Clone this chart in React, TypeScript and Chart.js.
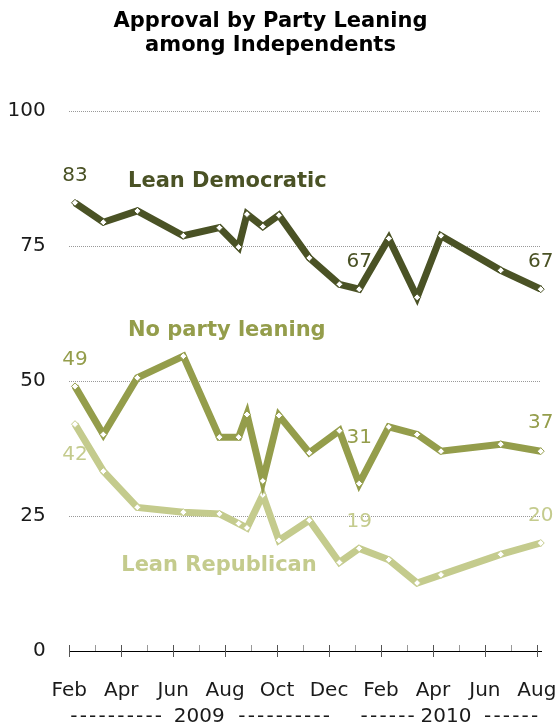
import React, { useEffect, useRef } from "react";
import { Chart, registerables } from "chart.js";

Chart.register(...registerables);

// Survey dates expressed as months since 1 Feb 2009
const surveyMonths = [0.22, 1.31, 2.62, 4.39, 5.78, 6.52, 6.84, 7.45, 8.07, 9.24, 10.4, 11.16, 12.3, 13.39, 14.31, 16.61, 18.15];
const leanDemocratic = [83, 79.4, 81.5, 76.9, 78.4, 74.8, 80.9, 78.6, 80.7, 72.8, 67.9, 67, 76.4, 65.5, 76.9, 70.5, 67];
const noPartyLeaning = [49, 40.1, 50.6, 54.6, 39.6, 39.6, 43.8, 31.5, 43.6, 36.7, 40.8, 31, 41.5, 40.1, 37, 38.3, 37];
const leanRepublican = [42, 33.3, 26.6, 25.7, 25.4, 23.6, 22.8, 28.9, 20.5, 24.2, 16.4, 19, 16.9, 12.6, 14.1, 17.9, 20];
const monthLabels = ["Feb", "Mar", "Apr", "May", "Jun", "Jul", "Aug", "Sep", "Oct", "Nov", "Dec", "Jan", "Feb", "Mar", "Apr", "May", "Jun", "Jul", "Aug"];
const yTicks = [0, 25, 50, 75, 100];
const years = ["2009", "2010"];
const yearDashCounts = [10, 6];
const seriesNames = ["Lean Democratic", "No party leaning", "Lean Republican"];
const labeledPoints = [0, 11, 16];
const titleLines = ["Approval by Party Leaning", "among Independents"];

const FONT = "'DejaVu Sans', Verdana, sans-serif";
const COLORS = ["#4a5225", "#949d4b", "#c4cb8d"];

export default function App() {
  const ref = useRef<HTMLCanvasElement | null>(null);

  useEffect(() => {
    if (!ref.current) return;

    // offsets (px) of the value labels relative to their points
    const valueLabelDy = [
      [-27, -27, -27],
      [-27, -46, -28],
      [31, -27, -27],
    ];
    // anchors of series names in data coordinates (month, value)
    const nameAnchors = [
      [2.26, 86.9],
      [2.26, 59.4],
      [2.0, 15.9],
    ];
    // year groupings: centre month and gaps (px) between year text and dashes
    const yearCentres = [5, 14.5];
    const yearGaps = [
      [36, 38],
      [30, 37],
    ];
    const dashPitch = 9.4;

    const annotations = {
      id: "annotations",
      afterDatasetsDraw(chart: any) {
        const ctx = chart.ctx;
        const xs = chart.scales.x;
        const ys = chart.scales.y;
        ctx.save();
        chart.data.datasets.forEach((ds: any, di: number) => {
          const meta = chart.getDatasetMeta(di);
          ctx.font = `20px ${FONT}`;
          ctx.fillStyle = COLORS[di];
          ctx.textAlign = "center";
          ctx.textBaseline = "middle";
          labeledPoints.forEach((idx, k) => {
            const pt = meta.data[idx];
            const v = Math.round(ds.data[idx].y);
            ctx.fillText(String(v), pt.x, pt.y + valueLabelDy[di][k]);
          });
          ctx.font = `bold 21px ${FONT}`;
          ctx.textAlign = "left";
          ctx.fillText(
            seriesNames[di],
            xs.getPixelForValue(nameAnchors[di][0]),
            ys.getPixelForValue(nameAnchors[di][1])
          );
        });
        ctx.restore();
      },
      afterDraw(chart: any) {
        const ctx = chart.ctx;
        const xs = chart.scales.x;
        const base = chart.chartArea.bottom;
        ctx.save();
        for (let m = 0; m < monthLabels.length; m++) {
          const px = Math.round(xs.getPixelForValue(m)) + 0.5;
          ctx.beginPath();
          ctx.lineWidth = 1;
          if (m % 2 === 0) {
            ctx.strokeStyle = "#555";
            ctx.moveTo(px, base - 6);
            ctx.lineTo(px, base + 6);
          } else {
            ctx.strokeStyle = "#999";
            ctx.moveTo(px, base - 6);
            ctx.lineTo(px, base);
          }
          ctx.stroke();
        }
        ctx.font = `20px ${FONT}`;
        ctx.fillStyle = "#1a1a1a";
        ctx.textAlign = "center";
        ctx.textBaseline = "middle";
        const yy = base + 66;
        years.forEach((t, i) => {
          const cx = xs.getPixelForValue(yearCentres[i]);
          ctx.fillText(t, cx, yy);
          const n = yearDashCounts[i];
          for (let k = 0; k < n; k++) {
            ctx.fillText("-", cx - yearGaps[i][0] - dashPitch / 2 - k * dashPitch, yy);
            ctx.fillText("-", cx + yearGaps[i][1] + dashPitch / 2 + k * dashPitch, yy);
          }
        });
        ctx.restore();
      },
    };

    const mk = (vals: number[], i: number) => ({
      label: seriesNames[i],
      data: vals.map((v, k) => ({ x: surveyMonths[k], y: v })),
      borderColor: COLORS[i],
      backgroundColor: COLORS[i],
      borderWidth: 7,
      tension: 0,
      borderJoinStyle: "miter",
      pointStyle: "rectRot",
      pointRadius: 3.5,
      pointBackgroundColor: "#ffffff",
      pointBorderColor: COLORS[i],
      pointBorderWidth: 1,
      clip: false,
    });

    const chart = new Chart(ref.current, {
      type: "line",
      data: {
        datasets: [
          mk(leanDemocratic, 0),
          mk(noPartyLeaning, 1),
          mk(leanRepublican, 2),
        ] as any,
      },
      options: {
        responsive: false,
        animation: false,
        layout: { padding: { left: 0, right: 17, top: 0, bottom: 0 } },
        plugins: {
          legend: { display: false },
          tooltip: { enabled: false },
          title: {
            display: true,
            text: titleLines,
            color: "#000",
            font: { family: FONT, size: 21, weight: "bold", lineHeight: 24 / 21 },
            padding: { top: 10, bottom: 53 },
          },
        },
        scales: {
          x: {
            type: "linear",
            min: 0,
            max: 18.16,
            grid: { display: false, drawTicks: false },
            border: { display: true, color: "#000", width: 1 },
            afterBuildTicks: (s: any) => {
              s.ticks = monthLabels.map((_, i) => ({ value: i }));
            },
            afterFit: (s: any) => {
              s.height = 75;
              s.paddingLeft = 0;
              s.paddingRight = 0;
            },
            ticks: {
              autoSkip: false,
              maxRotation: 0,
              minRotation: 0,
              padding: 28,
              color: "#1a1a1a",
              font: { family: FONT, size: 20 },
              callback: (_v: any, i: number) => (i % 2 === 0 ? monthLabels[i] : ""),
            },
          },
          y: {
            min: 0,
            max: 100,
            afterBuildTicks: (s: any) => {
              s.ticks = yTicks.map((v) => ({ value: v }));
            },
            afterFit: (s: any) => {
              s.width = 69.3;
            },
            grid: {
              drawTicks: false,
              lineWidth: 1,
              color: (c: any) => (c.tick && c.tick.value === 0 ? "rgba(0,0,0,0)" : "#999999"),
            },
            border: { display: false, dash: [1, 1] },
            ticks: {
              padding: 23.6,
              color: "#1a1a1a",
              font: { family: FONT, size: 20 },
            },
          },
        },
      },
      plugins: [annotations],
    } as any);

    return () => chart.destroy();
  }, []);

  return (
    <div style={{ position: "absolute", left: 0, top: 0, width: 558, height: 726, background: "#fff" }}>
      <canvas ref={ref} width={558} height={726} style={{ display: "block" }} />
    </div>
  );
}
